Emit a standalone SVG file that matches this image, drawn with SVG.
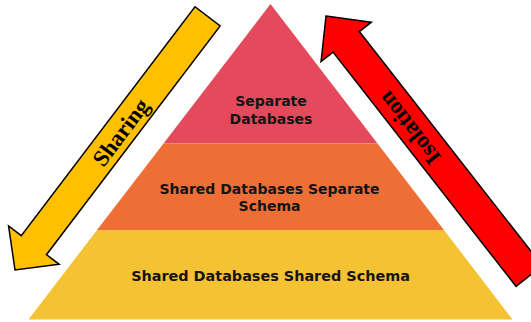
<svg xmlns="http://www.w3.org/2000/svg" width="531" height="322" viewBox="0 0 531 322">
<style>
.tier text{font-family:"DejaVu Sans",Verdana,sans-serif;font-weight:bold;font-size:14px;fill:#141414;text-anchor:middle}
.arrow polygon{stroke:#000;stroke-width:1.5;stroke-linejoin:miter}
.arrow text{font-family:"Liberation Serif","Times New Roman",serif;font-weight:bold;font-size:23px;fill:#000;text-anchor:middle}
</style>
<rect width="531" height="322" fill="#fff"/>
<g id="tier-separate-databases" class="tier">
<polygon points="270.5,4 377.5,143.5 163.5,143.5" fill="#E44A5C"/>
<text x="271" y="106">Separate</text>
<text x="271" y="124">Databases</text>
</g>
<g id="tier-shared-db-separate-schema" class="tier">
<polygon points="163.5,143.5 377.5,143.5 444,230 97,230" fill="#EE6E36"/>
<text x="269.5" y="193.5">Shared Databases Separate</text>
<text x="269.5" y="211">Schema</text>
</g>
<g id="tier-shared-db-shared-schema" class="tier">
<polygon points="97,230 444,230 512.5,319.5 28.5,319.5" fill="#F4C233"/>
<text x="270.5" y="281" style="font-size:14.4px">Shared Databases Shared Schema</text>
</g>
<g id="connectors">
<g id="arrow-sharing" class="arrow">
<polygon transform="translate(15,270) rotate(-52.8)" points="0,0 31.2,-31.75 31.2,-15.8 318.5,-15.8 318.5,15.8 31.2,15.8 31.2,31.75" fill="#FFC000"/>
<text transform="translate(121,132.5) rotate(-52.8)" x="0" y="7.5">Sharing</text>
</g>
<g id="arrow-isolation" class="arrow">
<polygon transform="translate(326,16) rotate(52)" points="0,0 32.8,-31.9 32.8,-16.7 330,-16.7 330,16.7 32.8,16.7 32.8,31.9" fill="#FF0000"/>
<text transform="translate(409.5,128) rotate(-128)" x="0" y="7.5">Isolation</text>
</g>
</g>
</svg>
